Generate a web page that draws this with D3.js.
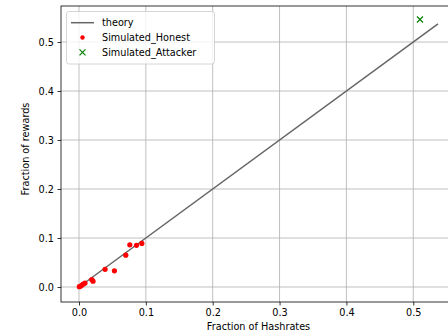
<!DOCTYPE html>
<head>
  <meta charset="utf-8">
  <script src="https://d3js.org/d3.v7.min.js"></script>
  <style>
    body { margin: 0; background: #fff; }
    text { font-family: "DejaVu Sans", sans-serif; }
    .grid line { stroke: #b0b0b0; stroke-width: 0.8; }
  </style>
</head>
<body>
<script>
// theory line y = x
var theoryX = [0, 0.537];
var theoryY = [0, 0.537];

// simulated honest miners (hashrate fraction, reward fraction)
var honestX = [0.0005, 0.0025, 0.0045, 0.0064, 0.009, 0.019, 0.021, 0.039, 0.053, 0.070, 0.076, 0.086, 0.094];
var honestY = [0.0006, 0.002, 0.004, 0.006, 0.008, 0.0153, 0.012, 0.036, 0.033, 0.065, 0.086, 0.085, 0.089];

// simulated attacker
var attackerX = [0.510];
var attackerY = [0.546];

var xTicks = [0.0, 0.1, 0.2, 0.3, 0.4, 0.5];
var yTicks = [0.0, 0.1, 0.2, 0.3, 0.4, 0.5];

var W = 448, H = 335;
var mLeft = 61, mTop = 6, mRight = 456, mBottom = 302;

var x = d3.scaleLinear().domain([-0.0269, 0.5639]).range([mLeft, mRight]);
var y = d3.scaleLinear().domain([-0.0306, 0.5735]).range([mBottom, mTop]);

var svg = d3.select("body").append("svg")
    .attr("width", W)
    .attr("height", H);

// grid
svg.append("g").attr("class", "grid")
  .selectAll("line").data(xTicks).enter().append("line")
    .attr("x1", d => x(d)).attr("x2", d => x(d))
    .attr("y1", mTop).attr("y2", mBottom);
svg.append("g").attr("class", "grid")
  .selectAll("line").data(yTicks).enter().append("line")
    .attr("x1", mLeft).attr("x2", mRight)
    .attr("y1", d => y(d)).attr("y2", d => y(d));

// axes
var xAxis = svg.append("g")
    .attr("transform", "translate(0," + mBottom + ")")
    .call(d3.axisBottom(x).tickValues(xTicks).tickFormat(d3.format(".1f")).tickSize(3.5).tickPadding(3.5));
var yAxis = svg.append("g")
    .attr("transform", "translate(" + mLeft + ",0)")
    .call(d3.axisLeft(y).tickValues(yTicks).tickFormat(d3.format(".1f")).tickSize(3.5).tickPadding(3.5));
[xAxis, yAxis].forEach(function(a) {
  a.select(".domain").remove();
  a.selectAll("text").style("font-size", "9.7px").attr("fill", "#000");
  a.selectAll("line").attr("stroke", "#000").attr("stroke-width", 0.8);
});

// spines
svg.append("rect")
    .attr("x", mLeft).attr("y", mTop)
    .attr("width", mRight - mLeft).attr("height", mBottom - mTop)
    .attr("fill", "none").attr("stroke", "#000").attr("stroke-width", 0.8);

// theory line
var line = d3.line().x(d => x(d[0])).y(d => y(d[1]));
svg.append("path")
    .datum(d3.zip(theoryX, theoryY))
    .attr("d", line)
    .attr("fill", "none")
    .attr("stroke", "#666666")
    .attr("stroke-width", 1.5);

// honest points
svg.append("g").selectAll("circle")
    .data(d3.zip(honestX, honestY))
    .enter().append("circle")
    .attr("cx", d => x(d[0]))
    .attr("cy", d => y(d[1]))
    .attr("r", 2.6)
    .attr("fill", "#ff0000");

// attacker
svg.append("g").selectAll("path")
    .data(d3.zip(attackerX, attackerY))
    .enter().append("path")
    .attr("transform", d => "translate(" + x(d[0]) + "," + y(d[1]) + ")")
    .attr("d", "M-3,-3L3,3M-3,3L3,-3")
    .attr("stroke", "#008000")
    .attr("stroke-width", 1.2)
    .attr("fill", "none");

// axis labels
svg.append("text")
    .attr("x", (mLeft + mRight) / 2).attr("y", 330)
    .attr("text-anchor", "middle")
    .style("font-size", "9.7px")
    .text("Fraction of Hashrates");
svg.append("text")
    .attr("transform", "translate(29," + 149 + ") rotate(-90)")
    .attr("text-anchor", "middle")
    .style("font-size", "9.7px")
    .text("Fraction of rewards");

// legend
var lg = svg.append("g");
lg.append("rect")
    .attr("x", 66.5).attr("y", 11.5)
    .attr("width", 148).attr("height", 52.5)
    .attr("rx", 2.5)
    .attr("fill", "#fff").attr("fill-opacity", 0.8)
    .attr("stroke", "#cccccc").attr("stroke-width", 0.8);
var rows = ["theory", "Simulated_Honest", "Simulated_Attacker"];
var rowY = [22.7, 37.5, 52.3];
lg.append("line")
    .attr("x1", 71).attr("x2", 94).attr("y1", rowY[0]).attr("y2", rowY[0])
    .attr("stroke", "#666666").attr("stroke-width", 1.5);
lg.append("circle")
    .attr("cx", 82.5).attr("cy", rowY[1]).attr("r", 2.2).attr("fill", "#ff0000");
lg.append("path")
    .attr("transform", "translate(82.5," + rowY[2] + ")")
    .attr("d", "M-3,-3L3,3M-3,3L3,-3")
    .attr("stroke", "#008000").attr("stroke-width", 1.2).attr("fill", "none");
lg.selectAll("text.lbl").data(rows).enter().append("text")
    .attr("class", "lbl")
    .attr("x", 102)
    .attr("y", (d, i) => rowY[i] + 3.5)
    .style("font-size", "9.7px")
    .text(d => d);
</script>
</body>
